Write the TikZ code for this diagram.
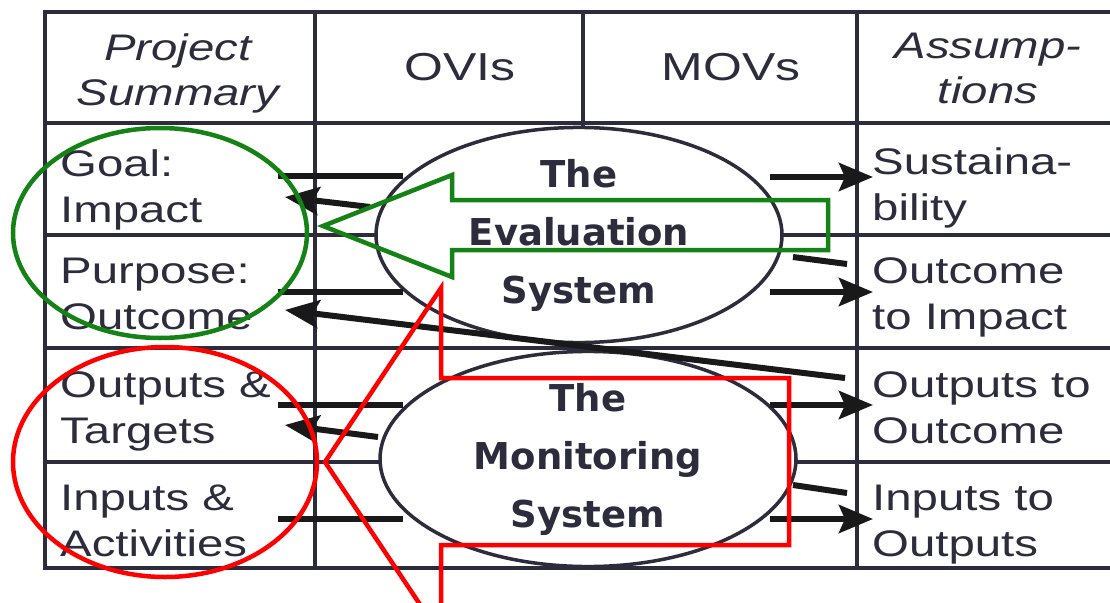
\documentclass[tikz,border=0pt]{standalone}
\usepackage{fontspec}
\usetikzlibrary{arrows.meta,shapes.geometric}
\newfontfamily\cellfont[FakeStretch=1.28]{Liberation Sans}
\newfontfamily\sysfont{DejaVu Sans}
\definecolor{ink}{RGB}{44,44,60}
\definecolor{evalgreen}{RGB}{20,130,20}

\begin{document}
\begin{tikzpicture}[x=1pt, y=-1pt,
    rule/.style={ink, line width=3.6pt, line cap=rect},
    cell/.style={font=\cellfont\fontsize{37}{46}\selectfont, text=ink, align=left, anchor=base west, inner sep=0pt},
    head/.style={font=\cellfont\fontsize{37}{45}\selectfont, text=ink, align=center, anchor=base, inner sep=0pt},
    system/.style={ellipse, draw=ink, line width=3.5pt, fill=white, inner sep=0pt, text=ink, align=center,
      font=\sysfont\bfseries\fontsize{37}{58}\selectfont},
    link/.style={line width=6pt, black!90},
    linkarrow/.style={link, -{Stealth[length=34pt, width=28pt, inset=6pt]}},
    loop/.style={line width=4.5pt}]
  % Canvas
  \clip (0,0) rectangle (1110,602);
  \fill[white] (0,0) rectangle (1110,602);
  % Table rules
  \foreach \y in {12,123,235,348,462,568} {
    \draw[rule] (45,\y) -- (1110,\y);
  }
  \foreach \x in {45,315,583,857} {
    \draw[rule] (\x,12) -- (\x,568);
  }
  % Header row (base = last line)
  \node[head, font=\cellfont\itshape\fontsize{37}{45}\selectfont] (summary) at (178,105) {Project\\Summary};
  \node[head, font=\cellfont\fontsize{39}{40}\selectfont] (ovis) at (460,81) {OVIs};
  \node[head, font=\cellfont\fontsize{39}{40}\selectfont] (movs) at (731,81) {MOVs};
  \node[head, font=\cellfont\itshape\fontsize{37}{45}\selectfont] (assumptions) at (988,103) {Assump-\\tions};
  % Project summary column
  \node[cell] (goal) at (60,222) {Goal:\\Impact};
  \node[cell] (purpose) at (60,329) {Purpose:\\Outcome};
  \node[cell] (outputs) at (60,443) {Outputs \&\\Targets};
  \node[cell] (inputs) at (60,556) {Inputs \&\\Activities};
  % Assumptions column
  \node[cell] (sustain) at (872,220) {Sustaina-\\bility};
  \node[cell] (toimpact) at (872,329) {Outcome\\to Impact};
  \node[cell] (tooutcome) at (872,443) {Outputs to\\Outcome};
  \node[cell] (tooutputs) at (872,556) {Inputs to\\Outputs};
  % The two systems
  \node[system, minimum width=406pt, minimum height=214pt] (evaluation) at (579,235) {The\\Evaluation\\System};
  \node[system, minimum width=416pt, minimum height=214pt] (monitoring) at (588,459) {The\\Monitoring\\System};
  % Links to the summary column
  \draw[link] (278,176) -- (403,176);
  \draw[linkarrow] (370,207) -- (285,197);
  \draw[link] (278,292) -- (403,292);
  \draw[link] (278,405) -- (403,405);
  \draw[linkarrow] (378,437) -- (285,425);
  \draw[link] (278,519) -- (403,519);
  \draw[linkarrow] (845,378) -- (285,310);
  % Links to the assumptions column
  \draw[linkarrow] (770,177) -- (873,177);
  \draw[link] (793,257) -- (847,264);
  \draw[linkarrow] (770,292) -- (873,292);
  \draw[linkarrow] (770,405) -- (873,405);
  \draw[link] (793,485) -- (847,493);
  \draw[linkarrow] (770,519) -- (873,519);
  % Evaluation loop (green)
  \draw[loop, evalgreen] (323,226) -- (452,175) -- (452,200) -- (828,200) -- (828,250)
    -- (452,250) -- (452,277) -- cycle;
  \draw[loop, evalgreen] (160,233) ellipse [x radius=147, y radius=105];
  % Monitoring loop (red)
  \draw[loop, red] (441,636) -- (325,462) -- (441,288) -- (441,378) -- (789,378) -- (789,545)
    -- (441,545) -- cycle;
  \draw[loop, red] (165,462) ellipse [x radius=152, y radius=115];
\end{tikzpicture}
\end{document}
